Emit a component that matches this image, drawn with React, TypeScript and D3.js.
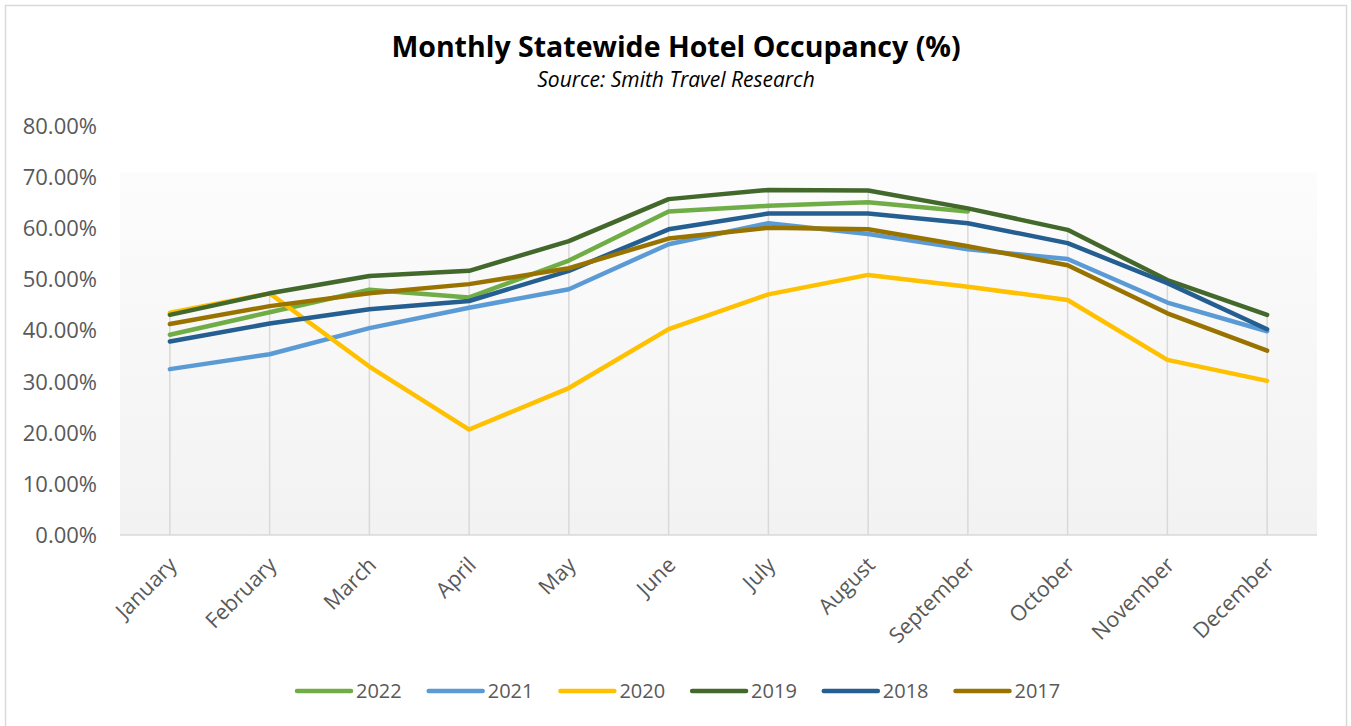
import React, { useEffect, useRef } from 'react';
import * as d3 from 'd3';

const months = [
  'January', 'February', 'March', 'April', 'May', 'June',
  'July', 'August', 'September', 'October', 'November', 'December',
];

// occupancy in percent (2022 stops at September)
const y2022 = [39.1, 43.5, 47.9, 46.4, 53.6, 63.2, 64.3, 65.0, 63.2];
const y2021 = [32.4, 35.3, 40.4, 44.4, 48.0, 56.8, 60.9, 58.8, 55.8, 53.9, 45.4, 39.8];
const y2020 = [43.4, 47.2, 32.9, 20.6, 28.7, 40.2, 47.0, 50.8, 48.5, 45.9, 34.2, 30.1];
const y2019 = [43.0, 47.2, 50.6, 51.6, 57.4, 65.6, 67.4, 67.3, 63.8, 59.6, 49.8, 43.0];
const y2018 = [37.8, 41.3, 44.1, 45.7, 51.6, 59.7, 62.8, 62.8, 60.9, 57.0, 49.2, 40.2];
const y2017 = [41.2, 44.7, 47.2, 49.0, 52.1, 57.9, 60.0, 59.7, 56.4, 52.7, 43.3, 36.0];

const seriesNames = ['2022', '2021', '2020', '2019', '2018', '2017'];
const seriesValues = [y2022, y2021, y2020, y2019, y2018, y2017];
const seriesColors = ['#70ad47', '#5b9bd5', '#ffc000', '#43682b', '#255e91', '#997300'];

const yTicks = [0, 10, 20, 30, 40, 50, 60, 70, 80];

const W = 1351;
const H = 726;
const FONT = '"Open Sans", "DejaVu Sans", sans-serif';

const App = () => {
  const chartRef = useRef<HTMLDivElement>(null);

  useEffect(() => {
    d3.select(chartRef.current).selectAll('*').remove();

    const svg = d3
      .select(chartRef.current)
      .append('svg')
      .attr('width', W)
      .attr('height', H)
      .style('position', 'absolute')
      .style('left', 0)
      .style('top', 0)
      .style('font-family', FONT);

    // chart frame
    svg.append('rect')
      .attr('x', 5.5).attr('y', 5.5)
      .attr('width', 1341).attr('height', 740)
      .attr('fill', '#fff')
      .attr('stroke', '#d9d9d9')
      .attr('stroke-width', 1.5);

    const xScale = d3.scalePoint<string>().domain(months).range([120, 1317]).padding(0.5);
    const yScale = d3.scaleLinear().domain([0, 80]).range([535, 125.4]);

    // plot area gradient
    const defs = svg.append('defs');
    const grad = defs.append('linearGradient')
      .attr('id', 'plotbg').attr('x1', 0).attr('y1', 0).attr('x2', 0).attr('y2', 1);
    grad.append('stop').attr('offset', '0%').attr('stop-color', '#fcfcfc');
    grad.append('stop').attr('offset', '100%').attr('stop-color', '#f2f2f2');

    svg.append('rect')
      .attr('x', 120).attr('y', yScale(70.8))
      .attr('width', 1197).attr('height', yScale(0) - yScale(70.8))
      .attr('fill', 'url(#plotbg)');

    // title
    svg.append('text')
      .attr('x', 676).attr('y', 57)
      .attr('text-anchor', 'middle')
      .attr('font-size', 28.5).attr('font-weight', 700)
      .attr('fill', '#000')
      .text('Monthly Statewide Hotel Occupancy (%)');
    svg.append('text')
      .attr('x', 676).attr('y', 87)
      .attr('text-anchor', 'middle')
      .attr('font-size', 21).attr('font-style', 'italic')
      .attr('fill', '#000')
      .text('Source: Smith Travel Research');

    // drop lines from the highest point at each month
    svg.append('g')
      .selectAll('line')
      .data(months)
      .enter()
      .append('line')
      .attr('x1', (d) => xScale(d)!)
      .attr('x2', (d) => xScale(d)!)
      .attr('y1', (d, i) => yScale(d3.max(seriesValues, (s) => s[i]) as number))
      .attr('y2', yScale(0))
      .attr('stroke', '#d9d9d9')
      .attr('stroke-width', 1.5);

    // baseline
    svg.append('line')
      .attr('x1', 120).attr('x2', 1317)
      .attr('y1', yScale(0)).attr('y2', yScale(0))
      .attr('stroke', '#d9d9d9').attr('stroke-width', 1.5);

    // y axis labels
    const yAxis = d3.axisLeft(yScale)
      .tickValues(yTicks)
      .tickSize(0)
      .tickPadding(0)
      .tickFormat((d) => `${(d as number).toFixed(2)}%`);
    const gy = svg.append('g').attr('transform', 'translate(97,0)').call(yAxis);
    gy.select('.domain').remove();
    gy.selectAll('text')
      .attr('font-family', FONT)
      .attr('font-size', 22)
      .attr('fill', '#595959')
      .attr('dy', '0.35em');

    // x axis labels, rotated
    svg.append('g')
      .selectAll('text')
      .data(months)
      .enter()
      .append('text')
      .attr('transform', (d) => `translate(${xScale(d)! + 3},${561}) rotate(-45)`)
      .attr('text-anchor', 'end')
      .attr('dy', '0.35em')
      .attr('font-size', 21.5)
      .attr('fill', '#595959')
      .text((d) => d);

    // series lines
    const line = d3.line<number>()
      .x((d, i) => xScale(months[i])!)
      .y((d) => yScale(d));

    svg.append('g')
      .selectAll('path')
      .data(seriesValues)
      .enter()
      .append('path')
      .attr('d', (d) => line(d))
      .attr('fill', 'none')
      .attr('stroke', (d, i) => seriesColors[i])
      .attr('stroke-width', 4.5)
      .attr('stroke-linejoin', 'round')
      .attr('stroke-linecap', 'round');

    // legend
    const legend = svg.append('g')
      .selectAll('g')
      .data(seriesNames)
      .enter()
      .append('g')
      .attr('transform', (d, i) => `translate(${297 + i * 131.7},691)`);
    legend.append('line')
      .attr('x1', 0).attr('x2', 54)
      .attr('stroke', (d, i) => seriesColors[i])
      .attr('stroke-width', 4.5)
      .attr('stroke-linecap', 'round');
    legend.append('text')
      .attr('x', 59)
      .attr('dy', '0.35em')
      .attr('font-size', 20)
      .attr('fill', '#595959')
      .text((d) => d);
  }, []);

  return <div ref={chartRef}></div>;
};

export default App;
